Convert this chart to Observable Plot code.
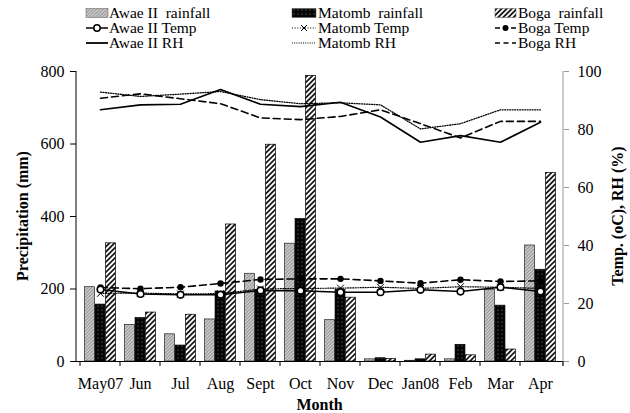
<!DOCTYPE html>
<html>
<head>
<meta charset="utf-8">
<script src="https://cdn.jsdelivr.net/npm/d3@7"></script>
<script src="https://cdn.jsdelivr.net/npm/@observablehq/plot@0.6"></script>
<style>
  body { margin: 0; background: #fff; }
  #wrap { width: 630px; font-family: "Liberation Serif", "Times New Roman", serif; }
  #wrap svg, #wrap svg text { font-family: "Liberation Serif", "Times New Roman", serif !important; }
  svg text { white-space: pre; }
</style>
</head>
<body>
<div id="wrap"></div>
<script>
// ---- data ----
const months = ["May07","Jun","Jul","Aug","Sept","Oct","Nov","Dec","Jan08","Feb","Mar","Apr"];
const awaeRain   = [205, 101, 75, 116, 242, 325, 114, 6, 2, 6, 198, 320];
const matombRain = [157, 120, 44, 193, 197, 393, 197, 9, 6, 46, 154, 253];
const bogaRain   = [326, 135, 129, 378, 598, 788, 176, 7, 19, 17, 33, 520];
const awaeTemp   = [24.8, 23.3, 23.0, 23.0, 24.5, 24.4, 23.9, 23.9, 24.7, 24.1, 25.6, 24.1];
const matombTemp = [23.5, 23.6, 23.3, 23.4, 25.0, 25.2, 25.3, 25.6, 25.2, 25.8, 25.6, 25.2];
const bogaTemp   = [25.5, 25.1, 25.6, 26.9, 28.3, 28.5, 28.5, 27.8, 27.0, 28.2, 27.6, 27.8];
const awaeRH     = [86.8, 88.5, 88.7, 93.8, 88.7, 87.9, 89.4, 84.3, 75.6, 77.9, 75.6, 82.5];
const matombRH   = [92.9, 91.4, 92.2, 93.1, 90.3, 88.9, 89.2, 88.5, 80.2, 82.0, 86.8, 86.8];
const bogaRH     = [90.8, 92.3, 90.6, 88.9, 84.0, 83.4, 84.5, 86.8, 82.0, 77.1, 82.8, 82.8];
const leftTicks  = [0, 200, 400, 600, 800];
const rightTicks = [0, 20, 40, 60, 80, 100];

const rows = arr => months.map((m, i) => ({month: m, v: arr[i]}));
const K = 8; // right axis (0-100) mapped onto left scale (0-800)

// ---- layout ----
const FONT = '"Liberation Serif", "Times New Roman", serif';
const W = 630, legendH = 56, H = 357;
const mL = 76, mR = 67, mT = 15, mB = 52;
const bw = (W - mL - mR) / months.length;
const barW = 10.5;
const pad = (bw - 3 * barW) / 2;
const inset = i => ({insetLeft: pad + i * barW, insetRight: bw - pad - (i + 1) * barW});

function defs(svg) {
  const d = svg.append("defs");
  const p1 = d.append("pattern").attr("id", "pAwae").attr("patternUnits", "userSpaceOnUse")
    .attr("width", 2.4).attr("height", 2.4).attr("patternTransform", "rotate(45)");
  p1.append("rect").attr("width", 2.4).attr("height", 2.4).attr("fill", "#cbcbcb");
  p1.append("line").attr("x1", 0.5).attr("y1", 0).attr("x2", 0.5).attr("y2", 2.4).attr("stroke", "#8a8a8a").attr("stroke-width", 0.8);
  const p2 = d.append("pattern").attr("id", "pMatomb").attr("patternUnits", "userSpaceOnUse")
    .attr("width", 4).attr("height", 4);
  p2.append("rect").attr("width", 4).attr("height", 4).attr("fill", "#050505");
  p2.append("circle").attr("cx", 2).attr("cy", 2).attr("r", 0.6).attr("fill", "#8a8a8a");
  const p3 = d.append("pattern").attr("id", "pBoga").attr("patternUnits", "userSpaceOnUse")
    .attr("width", 3.6).attr("height", 3.6).attr("patternTransform", "rotate(45)");
  p3.append("rect").attr("width", 3.6).attr("height", 3.6).attr("fill", "#fff");
  p3.append("line").attr("x1", 0.9).attr("y1", 0).attr("x2", 0.9).attr("y2", 3.6).attr("stroke", "#000").attr("stroke-width", 1.6);
}

// ---- legend ----
const wrap = d3.select("#wrap");
const lg = wrap.append("svg").attr("width", W).attr("height", legendH).style("display", "block")
  .style("font-family", FONT).style("font-size", "15.5px");
defs(lg);
const cols = [{s: 86, e: 108, t: 109}, {s: 292, e: 316, t: 318}, {s: 495, e: 516, t: 518}];
const rowsY = [13, 28, 43];
const legendItems = [
  {c: 0, r: 0, label: "Awae II  rainfall", type: "rect", fill: "url(#pAwae)"},
  {c: 1, r: 0, label: "Matomb  rainfall", type: "rect", fill: "url(#pMatomb)"},
  {c: 2, r: 0, label: "Boga  rainfall", type: "rect", fill: "url(#pBoga)"},
  {c: 0, r: 1, label: "Awae II Temp", type: "line", dash: null, w: 1.5, sym: "circle"},
  {c: 1, r: 1, label: "Matomb Temp", type: "line", dash: "1,1.6", w: 1, sym: "times"},
  {c: 2, r: 1, label: "Boga Temp", type: "line", dash: "5,3", w: 1.5, sym: "dot"},
  {c: 0, r: 2, label: "Awae II RH", type: "line", dash: null, w: 1.8},
  {c: 1, r: 2, label: "Matomb RH", type: "line", dash: "1,1.2", w: 1.2},
  {c: 2, r: 2, label: "Boga RH", type: "line", dash: "5,3.5", w: 1.5}
];
for (const it of legendItems) {
  const c = cols[it.c], y = rowsY[it.r];
  if (it.type === "rect") {
    lg.append("rect").attr("x", c.s).attr("y", y - 4.5).attr("width", c.e - c.s).attr("height", 9)
      .attr("fill", it.fill).attr("stroke", "#555").attr("stroke-width", 0.5);
  } else {
    lg.append("line").attr("x1", c.s).attr("x2", c.e).attr("y1", y).attr("y2", y)
      .attr("stroke", "#000").attr("stroke-width", it.w).attr("stroke-dasharray", it.dash);
    const cx = (c.s + c.e) / 2;
    if (it.sym === "circle") lg.append("circle").attr("cx", cx).attr("cy", y).attr("r", 3.2).attr("fill", "#fff").attr("stroke", "#000").attr("stroke-width", 1.5);
    if (it.sym === "dot") lg.append("circle").attr("cx", cx).attr("cy", y).attr("r", 3).attr("fill", "#000");
    if (it.sym === "times") lg.append("path").attr("d", `M${cx-3},${y-3}L${cx+3},${y+3}M${cx-3},${y+3}L${cx+3},${y-3}`).attr("stroke", "#000").attr("stroke-width", 1);
  }
  lg.append("text").attr("x", c.t).attr("y", y).attr("dy", "0.35em").text(it.label);
}

// ---- plot ----
const lineMark = (arr, opts) => Plot.line(rows(arr), {x: "month", y: d => d.v * K, stroke: "#000", ...opts});
const chart = Plot.plot({
  width: W, height: H,
  marginLeft: mL, marginRight: mR, marginTop: mT, marginBottom: mB,
  style: {fontFamily: FONT, fontSize: "16px", color: "#000", background: "#fff"},
  x: {type: "band", domain: months, padding: 0},
  y: {domain: [0, 800]},
  marks: [
    Plot.barY(rows(awaeRain),   {x: "month", y: "v", fill: "url(#pAwae)",   stroke: "#222", strokeWidth: 0.7, ...inset(0)}),
    Plot.barY(rows(matombRain), {x: "month", y: "v", fill: "url(#pMatomb)", stroke: "#000", strokeWidth: 0.7, ...inset(1)}),
    Plot.barY(rows(bogaRain),   {x: "month", y: "v", fill: "url(#pBoga)",   stroke: "#000", strokeWidth: 0.7, ...inset(2)}),
    lineMark(awaeRH,   {strokeWidth: 1.6}),
    lineMark(matombRH, {strokeWidth: 1.3, strokeDasharray: "1,1.5"}),
    lineMark(bogaRH,   {strokeWidth: 1.6, strokeDasharray: "7,4"}),
    lineMark(bogaTemp,   {strokeWidth: 1.6, strokeDasharray: "7,4"}),
    lineMark(matombTemp, {strokeWidth: 1.2, strokeDasharray: "1,1.5"}),
    lineMark(awaeTemp,   {strokeWidth: 1.5}),
    Plot.dot(rows(bogaTemp),   {x: "month", y: d => d.v * K, r: 3.2, fill: "#000", stroke: "none"}),
    Plot.dot(rows(matombTemp), {x: "month", y: d => d.v * K, r: 3.2, symbol: "times", stroke: "#000", strokeWidth: 1}),
    Plot.dot(rows(awaeTemp),   {x: "month", y: d => d.v * K, r: 3.3, fill: "#fff", stroke: "#000", strokeWidth: 1.6}),
    Plot.ruleY([0], {stroke: "#000", strokeWidth: 1}),
    Plot.axisY({ticks: leftTicks, tickSize: 6, tickPadding: 6, label: null, tickFormat: d => String(d)}),
    Plot.axisY({anchor: "right", ticks: rightTicks.map(t => t * K), tickFormat: d => String(d / K), tickSize: 5, tickPadding: 9, stroke: "#999", fill: "#000", label: null}),
    Plot.axisX({tickSize: 0, tickPadding: 16, label: null})
  ]
});
wrap.node().appendChild(chart);

// axis lines, boundary ticks and axis titles
const svg = d3.select(chart);
defs(svg);
const xs = chart.scale("x"), ys = chart.scale("y");
const [x0, x1] = xs.range;
const yTop = ys.apply(800), yBot = ys.apply(0);
const g = svg.append("g").attr("font-family", FONT);
g.append("line").attr("x1", x0).attr("x2", x0).attr("y1", yTop).attr("y2", yBot).attr("stroke", "#000");
g.append("line").attr("x1", x1).attr("x2", x1).attr("y1", yTop).attr("y2", yBot + 5).attr("stroke", "#999");
const bounds = months.map(m => xs.apply(m)).concat([x1]);
for (const bx of bounds) g.append("line").attr("x1", bx).attr("x2", bx).attr("y1", yBot).attr("y2", yBot + 5).attr("stroke", "#000");
g.append("text").attr("transform", `translate(22,${(yTop + yBot) / 2}) rotate(-90)`).attr("text-anchor", "middle")
  .attr("dy", "0.35em").attr("font-weight", "bold").attr("font-size", 16).text("Precipitation (mm)");
g.append("text").attr("transform", `translate(617,${(yTop + yBot) / 2}) rotate(-90)`).attr("text-anchor", "middle")
  .attr("dy", "0.35em").attr("font-weight", "bold").attr("font-size", 16).text("Temp. (oC), RH (%)");
g.append("text").attr("x", (x0 + x1) / 2).attr("y", yBot + 43).attr("text-anchor", "middle")
  .attr("dy", "0.35em").attr("font-weight", "bold").attr("font-size", 16).text("Month");
</script>
</body>
</html>
